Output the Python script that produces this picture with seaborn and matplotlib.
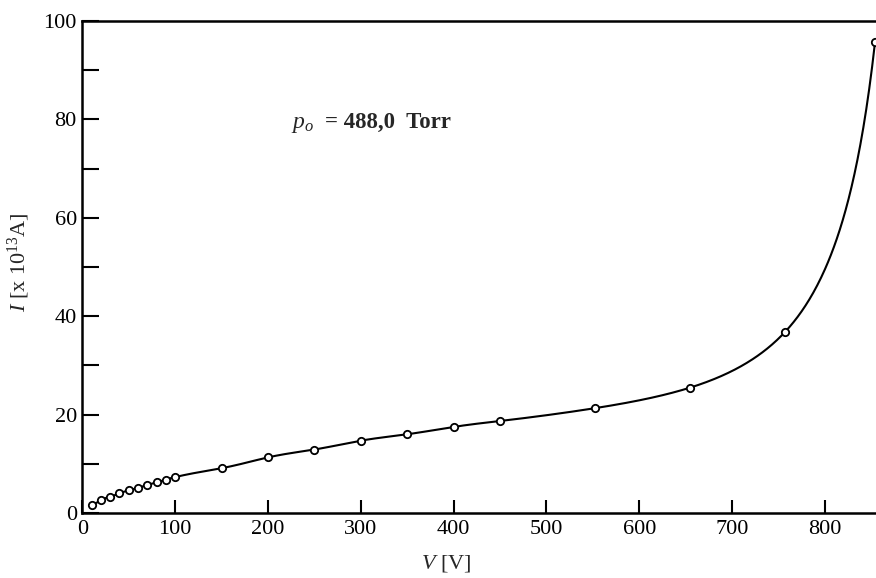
import numpy as np
import pandas as pd
import seaborn as sns
import matplotlib
matplotlib.use("Agg")
import matplotlib.pyplot as plt
from matplotlib.ticker import MultipleLocator

voltage = [10, 20, 30, 40, 50, 60, 70, 80, 90, 100, 150, 200, 250, 300,
           350, 400, 450, 552, 655, 757, 854]
current = [1.6, 2.6, 3.3, 4.0, 4.6, 5.1, 5.7, 6.2, 6.8, 7.3, 9.1, 11.3,
           12.9, 14.7, 16.0, 17.5, 18.7, 21.3, 25.5, 36.8, 95.8]
x_ticks = [0, 100, 200, 300, 400, 500, 600, 700, 800]
y_ticks = [0, 20, 40, 60, 80, 100]
pressure_label = "488,0  Torr"

df = pd.DataFrame({"V": voltage, "I": current})


def natural_spline(x, y, xs):
    '''smooth curve through the points (natural cubic spline)'''
    x = np.asarray(x, float)
    y = np.asarray(y, float)
    n = len(x)
    h = np.diff(x)
    A = np.zeros((n, n))
    b = np.zeros(n)
    A[0, 0] = 1
    A[-1, -1] = 1
    for i in range(1, n - 1):
        A[i, i - 1] = h[i - 1]
        A[i, i] = 2 * (h[i - 1] + h[i])
        A[i, i + 1] = h[i]
        b[i] = 3 * ((y[i + 1] - y[i]) / h[i] - (y[i] - y[i - 1]) / h[i - 1])
    c = np.linalg.solve(A, b)
    bb = (y[1:] - y[:-1]) / h - h * (2 * c[:-1] + c[1:]) / 3
    d = (c[1:] - c[:-1]) / (3 * h)
    idx = np.clip(np.searchsorted(x, xs) - 1, 0, n - 2)
    dx = xs - x[idx]
    return y[idx] + bb[idx] * dx + c[idx] * dx ** 2 + d[idx] * dx ** 3


# fit 1/I so the breakdown rise bends like the drawn curve
vs = np.linspace(df.V.min(), df.V.max(), 800)
curve = pd.DataFrame({"V": vs, "I": 1.0 / natural_spline(df.V, 1.0 / df.I, vs)})

sns.set_style("ticks")
plt.rcParams["font.family"] = ["Liberation Serif", "DejaVu Serif"]
plt.rcParams["mathtext.fontset"] = "custom"
plt.rcParams["mathtext.rm"] = "Liberation Serif"
plt.rcParams["mathtext.it"] = "Liberation Serif:italic"

fig = plt.figure(figsize=(8.76, 5.78), dpi=100)
ax = fig.add_axes([0.094, 0.1125, 0.906, 0.851])

sns.lineplot(data=curve, x="V", y="I", ax=ax, color="black", linewidth=1.5)
sns.scatterplot(data=df, x="V", y="I", ax=ax, marker="o", s=28,
                facecolor="white", edgecolor="black", linewidth=1.3, zorder=3)

ax.set_xlim(0, 855)
ax.set_ylim(0, 100)
ax.set_xticks(x_ticks)
ax.set_yticks(y_ticks)
ax.yaxis.set_minor_locator(MultipleLocator(10))

for side in ["left", "top", "bottom"]:
    ax.spines[side].set_linewidth(1.8)
    ax.spines[side].set_color("black")
ax.spines["right"].set_visible(False)

ax.tick_params(axis="x", direction="in", length=9.5, width=1.5, pad=5,
               labelsize=16, colors="black", top=False)
ax.tick_params(axis="y", which="both", direction="in", length=12, width=1.5,
               pad=4, labelsize=16, colors="black")

ax.set_xlabel("$\\mathit{V}$ [V]", fontsize=16, labelpad=10, x=0.458)
ax.set_ylabel("$\\mathit{I}$ [x 10$^{13}$A]", fontsize=16, labelpad=8, y=0.51)

ax.text(225, 78.2, "$\\mathit{p}_{\\mathit{o}}$", fontsize=17, va="baseline", ha="left")
ax.text(261, 78.2, "= " + pressure_label, fontsize=16.5, fontweight="bold",
        va="baseline", ha="left")

fig.savefig("out.png", dpi=100)
